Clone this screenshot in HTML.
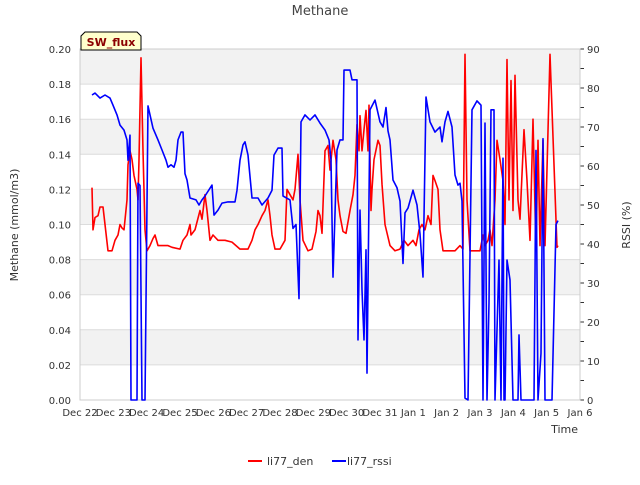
<!DOCTYPE html>
<html><head><meta charset="utf-8"><style>
body{margin:0;background:#fff;font-family:"Liberation Sans","DejaVu Sans",sans-serif}
svg text{font-family:"DejaVu Sans","Liberation Sans",sans-serif}
</style></head><body>
<svg id="c" width="640" height="480" xmlns="http://www.w3.org/2000/svg"></svg>
<script>
const denT=[0.36,0.39,0.45,0.54,0.60,0.69,0.75,0.84,0.96,1.05,1.14,1.20,1.26,1.32,1.41,1.44,1.50,1.56,1.62,1.71,1.74,1.77,1.83,1.89,1.95,2.01,2.10,2.19,2.25,2.34,2.46,2.64,2.76,3.00,3.09,3.21,3.30,3.33,3.45,3.60,3.66,3.75,3.81,3.90,3.99,4.14,4.35,4.56,4.80,5.04,5.16,5.25,5.34,5.46,5.55,5.64,5.70,5.76,5.85,6.00,6.15,6.21,6.30,6.39,6.45,6.54,6.60,6.69,6.84,6.96,7.08,7.14,7.20,7.26,7.35,7.44,7.50,7.59,7.68,7.74,7.80,7.89,7.98,8.10,8.19,8.25,8.31,8.37,8.40,8.46,8.52,8.58,8.64,8.67,8.73,8.76,8.82,8.94,9.00,9.06,9.15,9.30,9.45,9.60,9.72,9.84,9.99,10.08,10.17,10.26,10.35,10.44,10.53,10.59,10.65,10.74,10.80,10.89,11.25,11.40,11.49,11.55,11.61,11.70,12.00,12.09,12.15,12.24,12.30,12.36,12.45,12.51,12.60,12.69,12.75,12.81,12.87,12.93,12.99,13.05,13.14,13.20,13.32,13.41,13.50,13.59,13.68,13.74,13.80,13.89,13.95,14.10,14.31,14.34];
const denV=[0.121,0.097,0.104,0.105,0.110,0.110,0.100,0.085,0.085,0.091,0.094,0.100,0.098,0.097,0.114,0.134,0.142,0.137,0.128,0.120,0.114,0.137,0.195,0.142,0.097,0.085,0.088,0.092,0.094,0.088,0.088,0.088,0.087,0.086,0.091,0.094,0.100,0.094,0.097,0.108,0.103,0.117,0.108,0.091,0.094,0.091,0.091,0.090,0.086,0.086,0.091,0.097,0.100,0.105,0.108,0.114,0.105,0.094,0.086,0.086,0.091,0.120,0.117,0.114,0.120,0.140,0.114,0.091,0.085,0.086,0.096,0.108,0.105,0.095,0.142,0.145,0.131,0.148,0.137,0.114,0.105,0.096,0.095,0.108,0.117,0.128,0.157,0.142,0.162,0.142,0.154,0.165,0.142,0.168,0.108,0.120,0.137,0.148,0.145,0.123,0.100,0.088,0.085,0.086,0.091,0.088,0.091,0.088,0.097,0.100,0.097,0.105,0.100,0.128,0.125,0.120,0.097,0.085,0.085,0.088,0.086,0.197,0.114,0.085,0.085,0.094,0.088,0.091,0.097,0.088,0.114,0.148,0.137,0.125,0.100,0.194,0.114,0.182,0.108,0.185,0.114,0.103,0.154,0.125,0.091,0.160,0.085,0.148,0.088,0.148,0.088,0.197,0.087,0.088];
const rssiT=[0.36,0.45,0.60,0.75,0.90,0.99,1.11,1.20,1.32,1.41,1.44,1.50,1.53,1.71,1.74,1.80,1.86,1.95,2.04,2.19,2.34,2.46,2.58,2.64,2.73,2.82,2.88,2.94,3.03,3.09,3.15,3.21,3.30,3.48,3.57,3.66,3.75,3.96,4.02,4.14,4.26,4.44,4.65,4.71,4.80,4.89,4.95,5.04,5.16,5.34,5.46,5.64,5.76,5.82,5.94,6.06,6.09,6.30,6.39,6.48,6.57,6.63,6.75,6.90,7.05,7.20,7.35,7.47,7.53,7.59,7.71,7.80,7.89,7.92,8.10,8.16,8.31,8.34,8.40,8.46,8.52,8.58,8.61,8.70,8.85,9.00,9.09,9.18,9.24,9.30,9.39,9.51,9.60,9.69,9.75,9.84,9.99,10.11,10.20,10.29,10.38,10.50,10.65,10.80,10.86,10.95,11.04,11.16,11.25,11.34,11.40,11.46,11.55,11.64,11.76,11.91,12.03,12.09,12.15,12.21,12.27,12.33,12.42,12.45,12.57,12.63,12.69,12.72,12.75,12.81,12.90,12.99,13.14,13.17,13.23,13.38,13.62,13.68,13.74,13.83,13.89,13.95,14.07,14.16,14.28,14.34];
const rssiV=[78.2,78.7,77.4,78.2,77.4,75.6,73.1,70.5,69.2,66.7,61.5,67.9,0,0,55.6,55,0,0,75.4,69.7,66.7,64.1,61.5,59.7,60.3,59.7,61.5,66.7,68.7,68.7,58,56.4,51.8,51.3,50,51.3,52.3,55.1,47.4,48.7,50.5,50.8,50.8,53.8,61.5,65.4,66.2,62.8,51.8,51.8,50,51.8,53.8,62.8,64.6,64.6,52.3,51.3,44,45,26,71.3,73.1,71.8,73.1,71,69.2,66.7,61.5,31.5,64.1,66.7,66.7,84.6,84.6,82.1,82.1,15.4,48.7,28.2,15.4,38.5,6.9,74.4,76.9,71.3,70,75,69,66.7,56.4,54.4,51,35,48,49.2,53.8,50,42.6,31.5,77.7,71.3,68.7,70,66.2,71.3,74,70,57.7,55.1,55.6,51,0.5,0,74.4,76.7,75.6,0,71,0,25,74.4,74.4,0,35.9,0,62,0,0,35.9,30.8,0,0,16.7,0,0,0,64,0,12,67,0,0,0,45,46];
const xLabels=["Dec 22","Dec 23","Dec 24","Dec 25","Dec 26","Dec 27","Dec 28","Dec 29","Dec 30","Dec 31","Jan 1","Jan 2","Jan 3","Jan 4","Jan 5","Jan 6"];
const yTicks=[0,0.02,0.04,0.06,0.08,0.10,0.12,0.14,0.16,0.18,0.20];
const rTicks=[0,10,20,30,40,50,60,70,80,90];

const L=80,R=580,T=49,B=400;
const X=t=>L+(R-L)*t/15;
const Y=v=>B-(B-T)*v/0.2;
const Y2=v=>B-(B-T)*v/90;
const svg=document.getElementById('c');
const NS='http://www.w3.org/2000/svg';
function mk(tag,at,parent){const e=document.createElementNS(NS,tag);for(const k in at)e.setAttribute(k,at[k]);(parent||svg).appendChild(e);return e;}

let e;
e=mk('rect',{x:L,y:T,width:R-L,height:B-T,fill:'#fff'});


for(let i=0;i<10;i+=2){
 e=mk('rect',{x:L,y:Y(yTicks[i+2]),width:R-L,height:Y(yTicks[i+1])-Y(yTicks[i+2]),fill:'#f2f2f2'});
 
 
}
yTicks.forEach(v=>{
 e=mk('line',{x1:L,x2:R,y1:Y(v),y2:Y(v),stroke:'#dcdcdc','stroke-width':1});
 
 
 e=mk('text',{x:L-9,y:Y(v)+4,'text-anchor':'end','font-size':10,fill:'#333'});
 e.textContent=v.toFixed(2);
 
 
});
rTicks.forEach(v=>{
 e=mk('line',{x1:R,x2:R+4,y1:Y2(v),y2:Y2(v),stroke:'#333'});
 
 
 if(v<90){e=mk('line',{x1:R,x2:R+4,y1:Y2(v+5),y2:Y2(v+5),stroke:'#333'});
 
 }
 e=mk('text',{x:R+7,y:Y2(v)+4,'font-size':10,fill:'#333'});
 e.textContent=v;
 
 
});
xLabels.forEach((s,i)=>{
 e=mk('text',{x:X(i),y:416,'text-anchor':'middle','font-size':10,fill:'#333'});
 e.textContent=s;
 
 
});
e=mk('rect',{x:L,y:T,width:R-L,height:B-T,fill:'none',stroke:'#ccc'});



function line(ts,vs,f,col,name){
 const d=ts.map((t,i)=>(i?'L':'M')+X(t).toFixed(1)+','+f(vs[i]).toFixed(1)).join('');
 const p=mk('path',{d:d,fill:'none',stroke:col,'stroke-width':1.6,'stroke-linejoin':'round'});
 
 
}
line(denT,denV,Y,'#ff0000','li77-den-line');
line(rssiT,rssiV,Y2,'#0000ff','li77-rssi-line');

e=mk('text',{x:320,y:15,'text-anchor':'middle','font-size':13,fill:'#444'});
e.textContent='Methane';


e=mk('text',{x:18,y:225,'text-anchor':'middle','font-size':11,fill:'#333',transform:'rotate(-90 18 225)'});
e.textContent='Methane (mmol/m3)';


e=mk('text',{x:630,y:225,'text-anchor':'middle','font-size':11,fill:'#333',transform:'rotate(-90 630 225)'});
e.textContent='RSSI (%)';


e=mk('text',{x:578,y:433,'text-anchor':'end','font-size':11,fill:'#333'});
e.textContent='Time';



e=mk('path',{d:'M81,50 L81,36 L85,32 L137,32 L141,36 L141,50 Z',fill:'#ffffcc',stroke:'#000'});


e=mk('text',{x:111,y:46,'text-anchor':'middle','font-size':11,'font-weight':'bold',fill:'#8b0000'});
e.textContent='SW_flux';



e=mk('line',{x1:248,x2:262,y1:461,y2:461,stroke:'#ff0000','stroke-width':2});


e=mk('text',{x:267,y:465,'font-size':11,fill:'#333'});
e.textContent='li77_den';


e=mk('line',{x1:332,x2:346,y1:461,y2:461,stroke:'#0000ff','stroke-width':2});


e=mk('text',{x:347,y:465,'font-size':11,fill:'#333'});
e.textContent='li77_rssi';


</script>
</body></html>
